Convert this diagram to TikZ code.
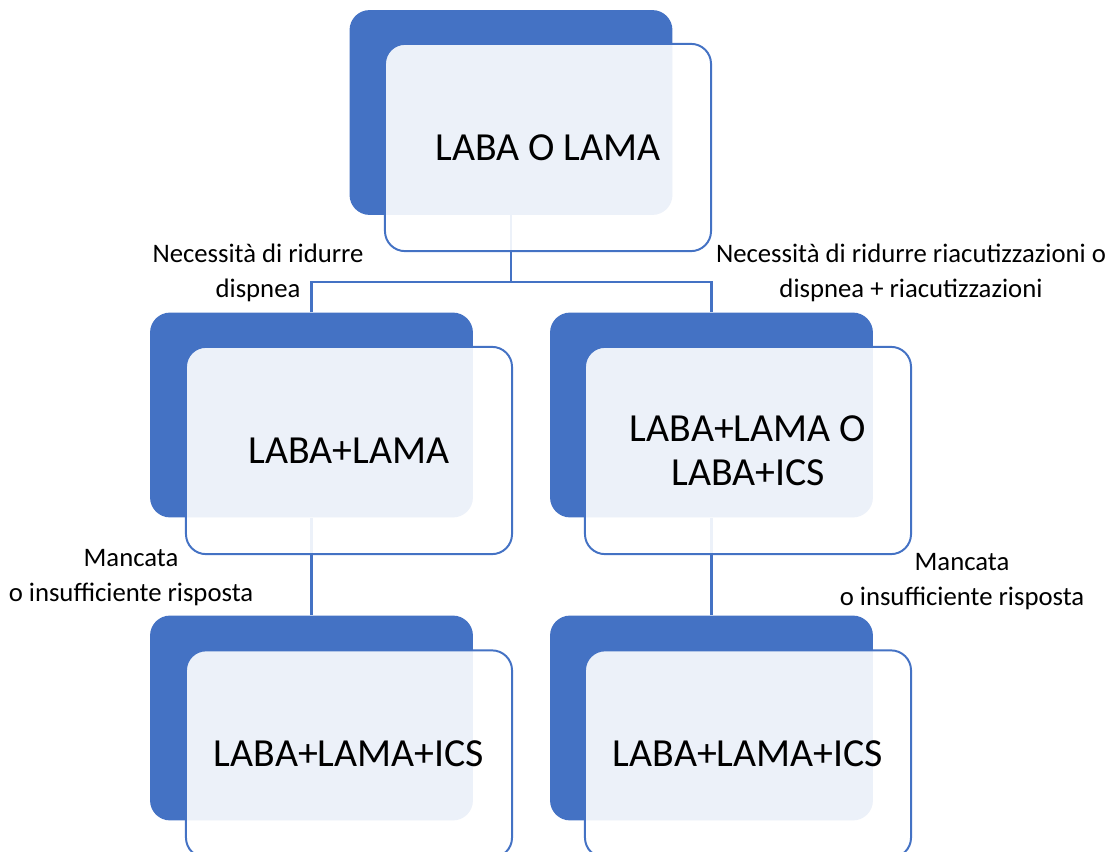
\documentclass[tikz,border=0pt]{standalone}
\usepackage{fontspec}
\setmainfont{Carlito}
\usepackage{tikz}
\usetikzlibrary{arrows.meta,calc}

\definecolor{accent}{HTML}{4472C4}

\tikzset{
  backbox/.style={fill=accent, rounded corners=0.5cm, minimum width=8.07cm,
    minimum height=5.12cm, inner sep=0pt},
  frontbox/.style={draw=accent, line width=1.4pt, fill=white, fill opacity=0.9,
    text opacity=1, rounded corners=0.5cm, minimum width=8.15cm,
    minimum height=5.18cm, align=center, font=\fontsize{28.3}{31}\selectfont},
  link/.style={draw=accent, line width=1.8pt},
  note/.style={align=center, font=\fontsize{19}{25}\selectfont}
}

\begin{document}
\begin{tikzpicture}[x=0.025cm, y=-0.025cm]
    \path[use as bounding box, clip] (0,0) rectangle (1113,852);

    % back boxes
    \node[backbox] (topback) at (511,112.5) {};
    \node[backbox] (leftback) at (311.5,415) {};
    \node[backbox] (rightback) at (711.5,415) {};
    \node[backbox] (leftlowback) at (311.5,718) {};
    \node[backbox] (rightlowback) at (711.5,718) {};

    % connectors
    \coordinate (split) at (511,282);
    \draw[link] (topback.south) -- (split);
    \draw[link] (leftback.north) |- (split) -| (rightback.north);
    \draw[link] (leftback.south) -- (leftlowback.north);
    \draw[link] (rightback.south) -- (rightlowback.north);

    % front boxes
    \node[frontbox] (top) at (548,147.5) {LABA O LAMA};
    \node[frontbox] (left) at (349,450.5) {LABA+LAMA};
    \node[frontbox] (right) at (748,450.5) {LABA+LAMA O\\LABA+ICS};
    \node[frontbox] (leftlow) at (349,754) {LABA+LAMA+ICS};
    \node[frontbox] (rightlow) at (748,754) {LABA+LAMA+ICS};

    % branch labels
    \node[note] (dysp) at (258,273) {Necessità di ridurre\\dispnea};
    \node[note] (exac) at (911,273) {Necessità di ridurre riacutizzazioni o\\dispnea + riacutizzazioni};
    \node[note] (failleft) at (131,578) {Mancata\\o insufficiente risposta};
    \node[note] (failright) at (962,582) {Mancata\\o insufficiente risposta};
\end{tikzpicture}
\end{document}
